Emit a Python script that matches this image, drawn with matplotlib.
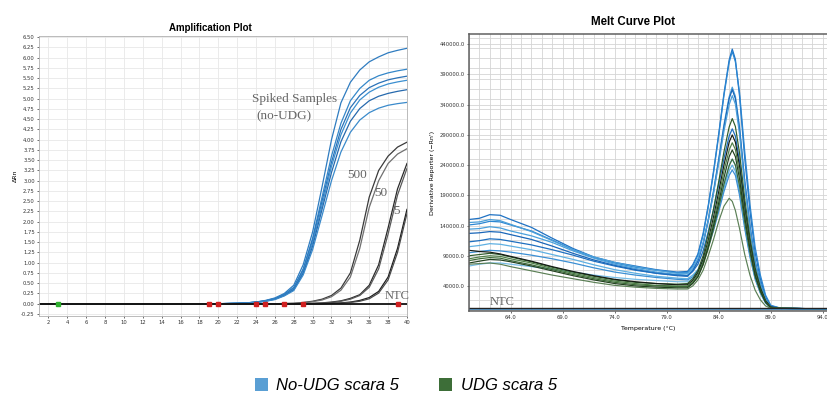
# qPCR amplification + melt curve figure

import numpy as np
import matplotlib
matplotlib.use("Agg")
import matplotlib.pyplot as plt
from matplotlib.patches import Patch
from matplotlib.ticker import MultipleLocator, FuncFormatter

# ---------------- amplification plot data (delta Rn at cycles 20..40)
cycles = list(range(20, 41))

spiked_1 = [0.0, 0.005, 0.01, 0.02, 0.04, 0.08, 0.14, 0.25, 0.45, 0.95, 1.75, 2.85, 4.0, 4.9, 5.4, 5.7, 5.9, 6.02, 6.12, 6.18, 6.23]
spiked_2 = [0.0, 0.005, 0.01, 0.02, 0.04, 0.07, 0.13, 0.23, 0.40, 0.85, 1.6, 2.6, 3.6, 4.4, 4.95, 5.25, 5.45, 5.56, 5.63, 5.68, 5.72]
spiked_3 = [0.0, 0.005, 0.01, 0.02, 0.04, 0.07, 0.12, 0.22, 0.38, 0.82, 1.55, 2.5, 3.45, 4.25, 4.78, 5.08, 5.27, 5.38, 5.46, 5.51, 5.55]
spiked_4 = [0.0, 0.005, 0.01, 0.02, 0.035, 0.065, 0.12, 0.21, 0.36, 0.78, 1.48, 2.4, 3.35, 4.12, 4.65, 4.97, 5.16, 5.28, 5.36, 5.41, 5.45]
spiked_5 = [0.0, 0.004, 0.01, 0.02, 0.035, 0.06, 0.11, 0.2, 0.34, 0.74, 1.4, 2.3, 3.2, 3.95, 4.45, 4.76, 4.95, 5.06, 5.13, 5.18, 5.22]
spiked_6 = [0.0, 0.004, 0.01, 0.015, 0.03, 0.06, 0.1, 0.19, 0.32, 0.7, 1.32, 2.15, 3.0, 3.7, 4.18, 4.48, 4.66, 4.77, 4.84, 4.88, 4.91]

copies_500a = [0, 0, 0, 0, 0, 0, 0, 0.005, 0.01, 0.03, 0.06, 0.11, 0.2, 0.38, 0.75, 1.55, 2.6, 3.25, 3.6, 3.82, 3.94]
copies_500b = [0, 0, 0, 0, 0, 0, 0, 0.004, 0.008, 0.02, 0.05, 0.09, 0.17, 0.33, 0.65, 1.35, 2.35, 3.0, 3.42, 3.65, 3.78]
copies_50a = [0, 0, 0, 0, 0, 0, 0, 0, 0, 0, 0.01, 0.02, 0.04, 0.07, 0.13, 0.22, 0.45, 0.95, 1.85, 2.8, 3.42]
copies_50b = [0, 0, 0, 0, 0, 0, 0, 0, 0, 0, 0.005, 0.015, 0.03, 0.06, 0.11, 0.2, 0.4, 0.85, 1.7, 2.65, 3.3]
copies_5a = [0, 0, 0, 0, 0, 0, 0, 0, 0, 0, 0, 0, 0.01, 0.02, 0.04, 0.08, 0.15, 0.3, 0.65, 1.35, 2.3]
copies_5b = [0, 0, 0, 0, 0, 0, 0, 0, 0, 0, 0, 0, 0.005, 0.015, 0.03, 0.06, 0.12, 0.26, 0.58, 1.25, 2.2]

ntc_cycles = [1, 40]
ntc_amp = [0.0, 0.0]
ct_red = [19, 20, 24, 25, 27, 29, 39]
ct_green = [3]

# ---------------- melt curve data (derivative reporter, in thousands)
melt_temp = [60, 61, 62, 63, 64, 66, 68, 70, 72, 74, 76, 78, 80,
             81, 81.5, 82, 82.5, 83, 83.5, 84, 84.5, 85,
             85.3, 85.6, 86, 86.5, 87, 87.5, 88, 88.5, 89, 90, 94.5]

noudg_1 = [150, 152, 158, 157, 150, 137, 119, 102, 88, 79, 73, 67, 63,
           64, 75, 93, 127, 174, 230, 292, 358, 414,
           432, 415, 354, 251, 164, 95, 52, 22, 7, 3, 2]
noudg_2 = [141, 143, 147, 146, 141, 131, 116, 100, 87, 78, 71, 66, 62,
           62, 73, 91, 124, 172, 227, 289, 355, 410,
           428, 411, 360, 262, 175, 104, 58, 25, 8, 3, 2]
noudg_3 = [134, 135, 138, 136, 131, 123, 112, 98, 86, 76, 69, 63, 59,
           58, 67, 83, 111, 151, 198, 251, 307, 353,
           369, 354, 303, 214, 140, 81, 44, 18, 6, 3, 2]
noudg_4 = [127, 128, 130, 129, 125, 117, 106, 94, 83, 74, 67, 61, 57,
           56, 65, 81, 109, 149, 195, 248, 303, 350,
           365, 350, 299, 212, 139, 80, 44, 18, 6, 3, 2]
noudg_5 = [113, 115, 118, 117, 114, 108, 100, 91, 81, 73, 66, 61, 58,
           57, 64, 76, 98, 130, 166, 208, 251, 288,
           300, 288, 246, 174, 114, 66, 36, 15, 5, 3, 2]
noudg_6 = [105, 107, 110, 109, 106, 100, 92, 84, 75, 67, 61, 56, 53,
           52, 58, 67, 84, 108, 137, 169, 202, 231,
           240, 230, 197, 139, 91, 53, 29, 12, 4, 3, 2]
noudg_7 = [95, 97, 99, 98, 96, 91, 85, 78, 70, 63, 58, 54, 51,
           50, 55, 65, 81, 105, 132, 163, 196, 223,
           232, 223, 190, 135, 88, 51, 28, 12, 4, 3, 2]
noudg_8 = [73, 76, 78, 78, 76, 72, 68, 63, 58, 54, 51, 49, 47,
           47, 53, 63, 82, 108, 138, 173, 209, 240,
           250, 240, 205, 145, 95, 55, 30, 13, 4, 3, 2]
noudg_9 = [145, 146, 150, 148, 142, 130, 115, 100, 88, 79, 72, 66, 61,
           61, 70, 85, 111, 149, 193, 243, 296, 340,
           355, 341, 291, 206, 135, 78, 43, 18, 5, 3, 2]

udg_1 = [90, 92, 94, 92, 88, 80, 71, 63, 56, 50, 46, 44, 43,
         44, 52, 66, 90, 126, 167, 213, 262, 303,
         317, 304, 260, 184, 120, 70, 38, 16, 5, 3, 2]
udg_2 = [99, 97, 96, 93, 89, 81, 72, 64, 57, 51, 47, 44, 42,
         42, 49, 62, 84, 116, 154, 196, 240, 278,
         290, 278, 238, 168, 110, 64, 35, 15, 5, 3, 2]
udg_3 = [85, 88, 90, 89, 85, 78, 69, 61, 54, 48, 44, 41, 40,
         40, 47, 59, 80, 111, 147, 187, 230, 265,
         277, 266, 227, 161, 105, 61, 33, 14, 4, 3, 2]
udg_4 = [82, 85, 87, 86, 82, 75, 67, 59, 52, 46, 42, 40, 39,
         39, 45, 56, 75, 102, 134, 170, 208, 239,
         250, 240, 205, 145, 95, 55, 30, 13, 4, 3, 2]
udg_5 = [78, 81, 84, 83, 80, 73, 65, 57, 50, 44, 40, 38, 37,
         37, 44, 55, 76, 105, 140, 178, 219, 254,
         265, 254, 217, 154, 101, 58, 32, 13, 4, 3, 2]
udg_6 = [76, 77, 78, 76, 72, 65, 58, 52, 46, 41, 38, 36, 35,
         35, 40, 50, 66, 90, 117, 147, 172, 185,
         180, 165, 135, 92, 58, 33, 17, 7, 3, 3, 2]

ntc_temp = [60, 94.5]
ntc_melt_dark = [4, 4]
ntc_melt_blue = [2, 2]

legend_labels = ["No-UDG scara 5", "UDG scara 5"]

# ---------------- figure
fig = plt.figure(figsize=(8.28, 3.99), dpi=100)
fig.patch.set_facecolor("white")

serif = "Liberation Serif"
label_col = "#666666"

# ===== Amplification plot
ax = fig.add_axes([0.0471, 0.208, 0.4444, 0.7018])
ax.set_xlim(1, 40)
ax.set_ylim(-0.3, 6.53)
ax.yaxis.set_major_locator(MultipleLocator(0.25))
ax.yaxis.set_major_formatter(FuncFormatter(lambda v, p: f"{v:.2f}"))
ax.set_xticks(np.arange(2, 41, 2))
ax.grid(True, color="#e8e8e8", lw=0.6)
ax.set_axisbelow(True)
ax.tick_params(labelsize=3.8, length=1.5, width=0.5, colors="#333333", pad=1.5)
for s in ax.spines.values():
    s.set_color("#b0b0b0")
    s.set_linewidth(0.6)
ax.set_ylabel("ΔRn", fontsize=4.5, labelpad=2)

cx = np.r_[1, cycles]
blue_cols = ["#2f7cc0", "#3487c9", "#2a72b8", "#3b8fd0", "#2669ad", "#3a8acb"]
for vals, c in zip([spiked_1, spiked_2, spiked_3, spiked_4, spiked_5, spiked_6], blue_cols):
    ax.plot(cx, np.r_[0, vals], color=c, lw=0.9)

black_cols = ["#3a3a3a", "#707070", "#2a2a2a", "#5a5a5a", "#1e1e1e", "#4a4a4a"]
for vals, c in zip([copies_500a, copies_500b, copies_50a, copies_50b, copies_5a, copies_5b], black_cols):
    ax.plot(cx, np.r_[0, vals], color=c, lw=0.9)

ax.plot(ntc_cycles, ntc_amp, color="#111111", lw=1.3)
ax.plot(ct_red, [0] * len(ct_red), ls="none", marker="s", ms=2.2, color="#d02020")
ax.plot(ct_green, [0] * len(ct_green), ls="none", marker="s", ms=2.2, color="#30b030")

ax.text(23.6, 5.0, "Spiked Samples", fontsize=9.5, family=serif, color=label_col, va="center")
ax.text(24.0, 4.56, "(no-UDG)", fontsize=9.5, family=serif, color=label_col, va="center")
ax.text(33.7, 3.13, "500", fontsize=9.5, family=serif, color=label_col, va="center")
ax.text(36.5, 2.71, "50", fontsize=9.5, family=serif, color=label_col, va="center")
ax.text(38.5, 2.27, "5", fontsize=9.5, family=serif, color=label_col, va="center")
ax.text(37.6, 0.2, "NTC", fontsize=9, family=serif, color=label_col, va="center")

fig.text(0.2536, 0.93, "Amplification Plot", ha="center", va="center",
         fontsize=7, fontweight="bold", family="Liberation Sans")

# ===== Melt curve plot
mx = fig.add_axes([0.5664, 0.2206, 0.4336, 0.6942])
mx.set_xlim(60, 94.5)
mx.set_ylim(-1.4, 457)
mx.set_xticks([64, 69, 74, 79, 84, 89, 94])
mx.xaxis.set_major_formatter(FuncFormatter(lambda v, p: f"{v:.1f}"))
mx.xaxis.set_minor_locator(MultipleLocator(1))
mx.set_yticks(np.arange(40, 441, 50))
mx.yaxis.set_minor_locator(MultipleLocator(50 / 3))
mx.yaxis.set_major_formatter(FuncFormatter(lambda v, p: f"{v * 1000:.1f}"))
mx.grid(True, which="both", color="#d4d4d4", lw=0.6)
mx.set_axisbelow(True)
mx.tick_params(which="major", labelsize=3.8, length=1.5, width=0.5, colors="#333333", pad=1.5)
mx.tick_params(which="minor", length=0)
for s in mx.spines.values():
    s.set_color("#606060")
    s.set_linewidth(1.1)
mx.set_ylabel("Derivative Reporter (\u2212Rn')", fontsize=4.5, labelpad=3)
mx.set_xlabel("Temperature (\u00b0C)", fontsize=4.5, labelpad=4)

noudg = [noudg_1, noudg_2, noudg_3, noudg_4, noudg_5, noudg_6, noudg_7, noudg_8, noudg_9]
noudg_cols = ["#1f72c4", "#2b86d2", "#4aa0dc", "#1a66b8", "#1e6fc0",
              "#5fb0e2", "#3b8fd4", "#78bde6", "#4c9fd9"]
for vals, c in zip(noudg, noudg_cols):
    mx.plot(melt_temp, vals, color=c, lw=0.9)

udg = [udg_1, udg_2, udg_3, udg_4, udg_5, udg_6]
udg_cols = ["#2e5b2a", "#141a14", "#4d7d45", "#3b6b36", "#22401f", "#5b7f55"]
for vals, c in zip(udg, udg_cols):
    mx.plot(melt_temp, vals, color=c, lw=0.85)

mx.plot(ntc_temp, ntc_melt_blue, color="#3b8fd0", lw=1.2)
mx.plot(ntc_temp, ntc_melt_dark, color="#222222", lw=1.0)
mx.text(62.0, 13.5, "NTC", fontsize=9, family=serif, color=label_col, va="center")

fig.text(0.7645, 0.945, "Melt Curve Plot", ha="center", va="center",
         fontsize=8.3, fontweight="bold", family="Liberation Sans")

# ===== legend
handles = [Patch(facecolor="#5a9fd4", edgecolor="none"),
           Patch(facecolor="#3d6e38", edgecolor="none")]
fig.legend(handles, legend_labels, loc="center", bbox_to_anchor=(0.49, 0.033),
           ncol=2, frameon=False, handlelength=0.8, handleheight=0.8,
           handletextpad=0.5, columnspacing=2.4,
           prop={"family": "Liberation Sans", "style": "italic", "size": 12})

fig.savefig("out.png", dpi=100)
